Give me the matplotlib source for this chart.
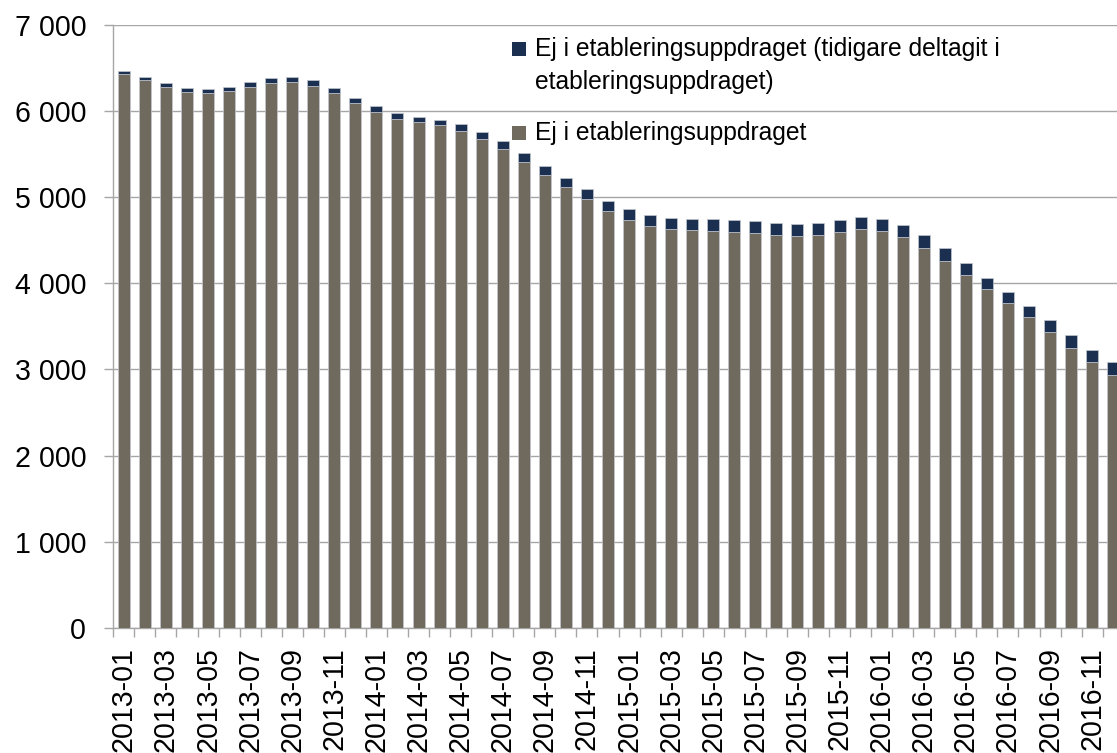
import matplotlib
matplotlib.use("Agg")
import matplotlib.pyplot as plt
from matplotlib.patches import Rectangle
from matplotlib.ticker import FuncFormatter, FixedLocator

plt.rcParams['font.family'] = ['Liberation Sans', 'DejaVu Sans']

# ---- data ----
months = [f"{y}-{m:02d}" for y in (2013, 2014, 2015, 2016) for m in range(1, 13)]
ej_i = [6430, 6360, 6286, 6224, 6209, 6236, 6286, 6329, 6340, 6298, 6209, 6093,
        5988, 5914, 5872, 5837, 5771, 5682, 5562, 5414, 5260, 5120, 4977, 4845,
        4740, 4671, 4632, 4621, 4609, 4601, 4582, 4563, 4551, 4563, 4594, 4632,
        4609, 4539, 4415, 4260, 4094, 3932, 3769, 3610, 3432, 3250, 3084, 2940]
tidigare = [38, 38, 39, 47, 46, 46, 51, 58, 62, 62, 58, 62,
            70, 70, 62, 65, 81, 77, 89, 101, 108, 105, 116, 116,
            125, 120, 125, 128, 140, 140, 143, 139, 139, 143, 147, 136,
            143, 144, 144, 148, 140, 135, 135, 131, 140, 147, 142, 151]
label_grey = "Ej i etableringsuppdraget"
label_navy = "Ej i etableringsuppdraget (tidigare deltagit i\netableringsuppdraget)"
yticks = [0, 1000, 2000, 3000, 4000, 5000, 6000, 7000]

GREY = "#706a5e"
NAVY = "#1b2f50"
GRID = "#a6a6a6"

W, H = 1117, 753
fig = plt.figure(figsize=(W / 100, H / 100), dpi=100)
ax = fig.add_axes([113.3 / W, 1 - 627.7 / H, 48 * 21.05 / W, (627.7 - 25.2) / H])

x = list(range(len(months)))
ax.bar(x, ej_i, width=0.57, color=GREY, edgecolor="#c3c7cf", linewidth=0.5, zorder=3)
ax.bar(x, tidigare, bottom=ej_i, width=0.57, color=NAVY, edgecolor="#c3c7cf",
       linewidth=0.5, zorder=3)

ax.set_xlim(-0.5, len(months) - 0.5)
ax.set_ylim(0, 7000)
ax.set_yticks(yticks)
ax.yaxis.set_major_formatter(FuncFormatter(lambda v, p: f"{int(v):,}".replace(",", " ")))
ax.yaxis.grid(True, color=GRID, linewidth=1.0, zorder=0)
ax.set_axisbelow(True)

ax.set_xticks(x[::2])
ax.set_xticklabels(months[::2], rotation=90)
ax.xaxis.set_minor_locator(FixedLocator([i - 0.5 for i in range(len(months) + 1)]))
ax.tick_params(axis='x', which='major', length=0, pad=14, labelsize=20.6)
ax.tick_params(axis='x', which='minor', length=6.5, width=1.0, color=GRID, direction='out')
ax.tick_params(axis='y', length=6.5, width=1.0, color=GRID, pad=13, labelsize=20.6)

for s in ('top', 'right'):
    ax.spines[s].set_visible(False)
for s in ('left', 'bottom'):
    ax.spines[s].set_color(GRID)
    ax.spines[s].set_linewidth(1.0)

# ---- legend (drawn manually to match Excel layout) ----
def fx(px):
    return px / W

def fy(py):
    return 1 - py / H

LEG_FS = 17.7
fig.patches.append(Rectangle((fx(512), fy(55.5)), 14 / W, 14 / H, transform=fig.transFigure,
                             facecolor=NAVY, edgecolor='none'))
fig.text(fx(535), fy(89), label_navy, fontsize=LEG_FS, va='baseline', ha='left',
         linespacing=1.49)
fig.patches.append(Rectangle((fx(512), fy(139.5)), 14 / W, 14 / H, transform=fig.transFigure,
                             facecolor=GREY, edgecolor='none'))
fig.text(fx(535), fy(140), label_grey, fontsize=LEG_FS, va='baseline', ha='left')

fig.savefig("out.png", dpi=100)
